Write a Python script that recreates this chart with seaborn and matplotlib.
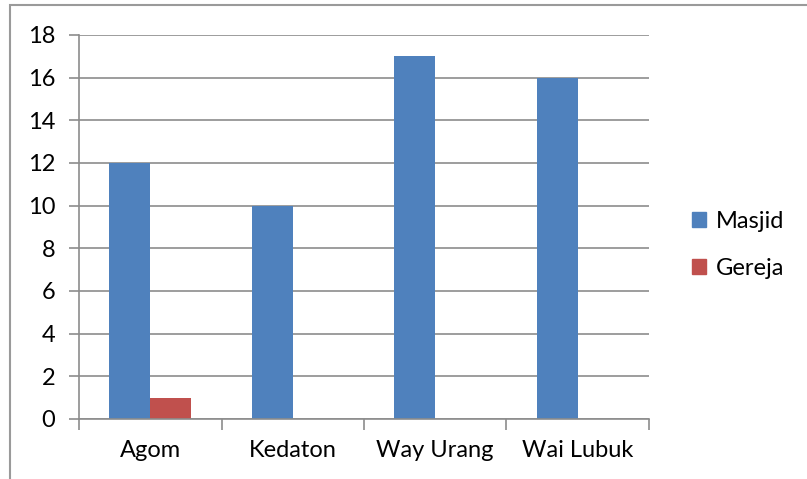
import matplotlib
matplotlib.use("Agg")
import matplotlib.pyplot as plt
import matplotlib.patches as mpatches
import seaborn as sns
import pandas as pd

categories = ["Agom", "Kedaton", "Way Urang", "Wai Lubuk"]
masjid = [12, 10, 17, 16]
gereja = [1, 0, 0, 0]
series_names = ["Masjid", "Gereja"]
colors = ["#4F81BD", "#C0504D"]
y_ticks = [0, 2, 4, 6, 8, 10, 12, 14, 16, 18]

df = pd.DataFrame({
    "Desa": categories * 2,
    "Jumlah": masjid + gereja,
    "Jenis": [series_names[0]] * len(categories) + [series_names[1]] * len(categories),
})

sns.set_style("white")
plt.rcParams["font.family"] = ["Lato", "DejaVu Sans"]
plt.rcParams["text.color"] = "black"

fig = plt.figure(figsize=(8.07, 4.79), dpi=100)
ax = fig.add_axes([0.0979, 0.1253, 0.7063, 0.8017])

sns.barplot(data=df, x="Desa", y="Jumlah", hue="Jenis", palette=colors,
            width=0.575, gap=0, ax=ax, legend=False, saturation=1,
            linewidth=0, edgecolor="none")

grid_c = "#8C8C8C"
ax.set_ylim(0, 18)
ax.set_xlim(-0.5, len(categories) - 0.5)
ax.set_yticks(y_ticks)
ax.yaxis.grid(True, color=grid_c, linewidth=1.2)
ax.set_axisbelow(True)
for s in ["top", "right"]:
    ax.spines[s].set_visible(False)
for s in ["left", "bottom"]:
    ax.spines[s].set_color(grid_c)
    ax.spines[s].set_linewidth(1.2)

ax.set_xlabel("")
ax.set_ylabel("")
ax.tick_params(axis="y", length=7, width=1.2, color=grid_c, labelsize=17,
               labelcolor="black", pad=10, left=True)
ax.tick_params(axis="x", which="major", length=0, labelsize=17,
               labelcolor="black", pad=15)
ax.set_xticks([i - 0.5 for i in range(len(categories) + 1)], minor=True)
ax.tick_params(axis="x", which="minor", length=8, width=1.2, color=grid_c, bottom=True)

handles = [mpatches.Patch(color=c, label=n) for c, n in zip(colors, series_names)]
fig.legend(handles=handles, loc="center left", bbox_to_anchor=(0.857, 0.488),
           frameon=False, fontsize=17, handlelength=0.6, handleheight=0.6,
           handletextpad=0.42, labelspacing=1.1, borderpad=0, borderaxespad=0)

# chart border
fig.patches.append(mpatches.Rectangle((10 / 807, -0.1), 1.2, (479 - 5) / 479 + 0.1,
                                      transform=fig.transFigure, fill=False,
                                      edgecolor="#9A9A9A", linewidth=1.5))

fig.savefig("out.png", dpi=100)
